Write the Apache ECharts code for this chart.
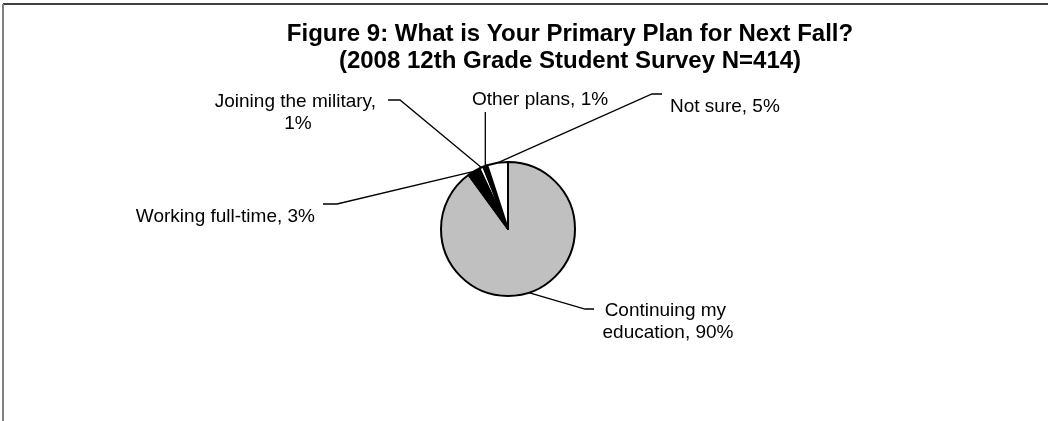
<!DOCTYPE html>
<html>
<head>
<meta charset="utf-8">
<script src="https://cdn.jsdelivr.net/npm/echarts@6/dist/echarts.min.js"></script>
<style>
html, body { margin: 0; padding: 0; background: #fff; }
#pie_plan { width: 1048px; height: 421px; }
</style>
</head>
<body>
<div id="pie_plan"></div>
<script>
// answers
var planNames = ['Continuing my education', 'Working full-time', 'Joining the military', 'Other plans', 'Not sure'];
var planPercents = [90, 3, 1, 1, 5];
var sliceColors = ['#c0c0c0', '#000000', '#ffffff', '#000000', '#ffffff'];

// label placement and leader bends (layout only, pixels)
var labelSpots = [
	{x: 668, y: 322, align: 'center', width: 140, bend: [585, 309], end: [596, 309]},
	{x: 319, y: 217, align: 'right', bend: [337, 204], end: [323, 204]},
	{x: 298, y: 113, align: 'center', width: 170, bend: [400, 100], end: [388, 100]},
	{x: 540, y: 100, align: 'center', stopY: 112},
	{x: 666, y: 107, align: 'left', bend: [652, 94], end: [662, 94]}
];

var chart = echarts.init(document.getElementById('pie_plan'));

var pieData = [];
for (var i = 0; i < planNames.length; i++) {
	var lab = {};
	if (labelSpots[i].width) {
		lab.width = labelSpots[i].width;
		lab.overflow = 'break';
	}
	pieData.push({
		name: planNames[i],
		value: planPercents[i],
		itemStyle: {color: sliceColors[i]},
		label: lab
	});
}

var option = {
	animation: false,
	backgroundColor: '#fff',
	title: {
		text: 'Figure 9: What is Your Primary Plan for Next Fall?\n(2008 12th Grade Student Survey N=414)',
		left: 570,
		top: 21,
		textAlign: 'center',
		padding: 0,
		textStyle: {
			fontFamily: 'Arial',
			fontSize: 24,
			fontWeight: 'bold',
			color: '#000',
			lineHeight: 27
		}
	},
	graphic: [
		{type: 'line', shape: {x1: 3, y1: 4, x2: 1048, y2: 4}, style: {stroke: '#404040', lineWidth: 2}},
		{type: 'line', shape: {x1: 3, y1: 4, x2: 3, y2: 421}, style: {stroke: '#808080', lineWidth: 2}}
	],
	series: [{
		name: 'Primary plan',
		type: 'pie',
		center: [508, 229],
		radius: 67,
		startAngle: 90,
		clockwise: true,
		itemStyle: {borderColor: '#000', borderWidth: 2},
		label: {
			show: true,
			position: 'outside',
			formatter: '{b}, {d}%',
			fontFamily: 'Arial',
			fontSize: 19,
			lineHeight: 22,
			color: '#000',
			backgroundColor: '#fff',
			padding: [0, 4]
		},
		labelLine: {
			show: true,
			smooth: false,
			lineStyle: {color: '#000', width: 1.3}
		},
		labelLayout: function (params) {
			var s = labelSpots[params.dataIndex];
			var edge = params.labelLinePoints ? params.labelLinePoints[0] : null;
			var pts;
			if (edge) {
				if (s.stopY) {
					pts = [edge, [edge[0], s.stopY], [edge[0], s.stopY]];
				} else {
					pts = [edge, s.bend, s.end];
				}
			}
			return {
				x: s.x,
				y: s.y,
				align: s.align,
				verticalAlign: 'middle',
				hideOverlap: false,
				labelLinePoints: pts
			};
		},
		emphasis: {disabled: true},
		data: pieData
	}]
};

chart.setOption(option);
</script>
</body>
</html>
